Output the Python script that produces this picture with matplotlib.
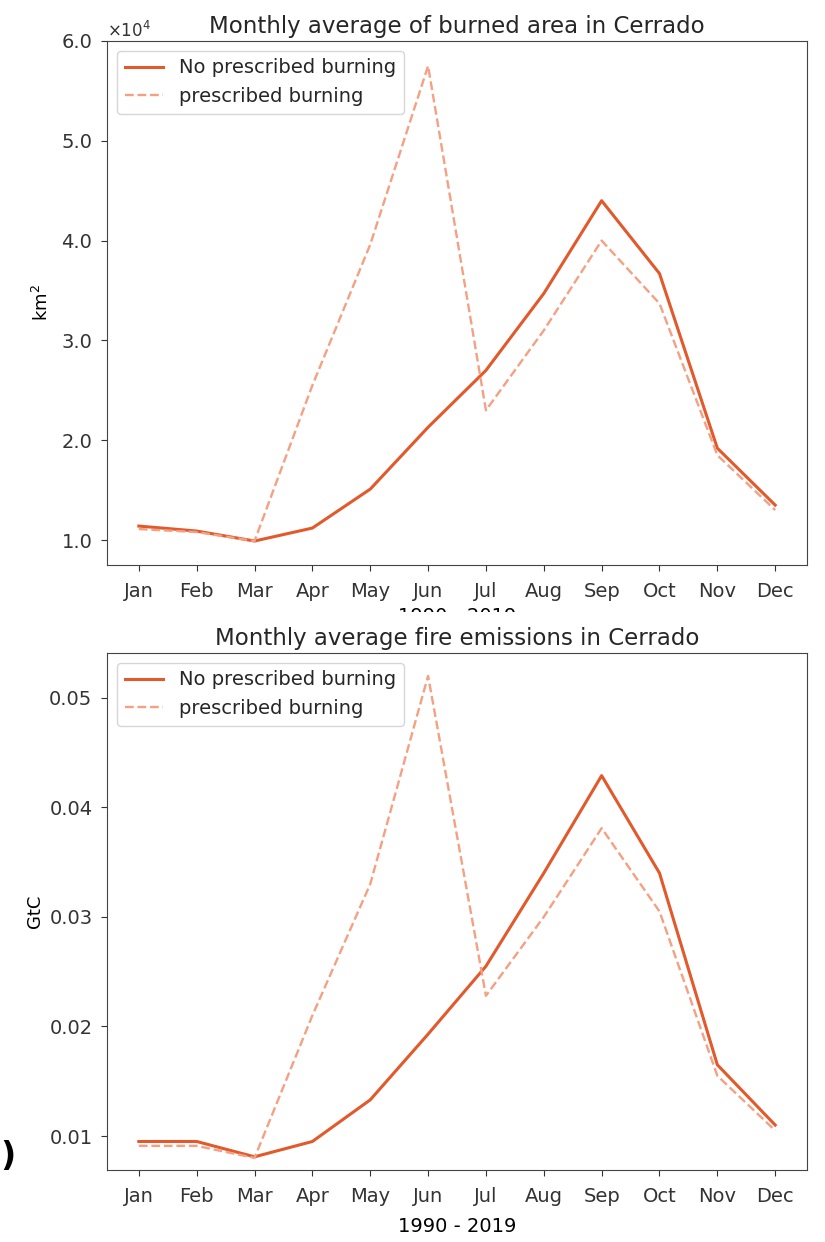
import matplotlib
matplotlib.use("Agg")
import matplotlib.pyplot as plt
from matplotlib.ticker import ScalarFormatter
from matplotlib.patches import Rectangle

months = ["Jan", "Feb", "Mar", "Apr", "May", "Jun", "Jul", "Aug", "Sep", "Oct", "Nov", "Dec"]

# burned area, km2
area_no_pb = [11400, 10900, 9900, 11200, 15100, 21300, 27000, 34700, 44000, 36700, 19200, 13500]
area_pb = [11100, 10800, 9900, 25500, 39600, 57500, 23000, 31000, 40000, 33700, 18500, 13000]

# emissions, GtC
emis_no_pb = [0.0095, 0.0095, 0.0081, 0.0095, 0.0133, 0.0193, 0.0255, 0.0340, 0.0429, 0.0340, 0.0165, 0.0110]
emis_pb = [0.0091, 0.0091, 0.0080, 0.0210, 0.0330, 0.0520, 0.0228, 0.0300, 0.0381, 0.0305, 0.0155, 0.0105]

c_solid = "#e2592b"
c_dash = "#f5a082"

class OneDecimal(ScalarFormatter):
    def _set_format(self):
        self.format = "%1.1f"

plt.rcParams["font.size"] = 14
plt.rcParams["text.color"] = "#262626"
plt.rcParams["xtick.color"] = "#333333"
plt.rcParams["ytick.color"] = "#333333"
plt.rcParams["axes.edgecolor"] = "#444444"
plt.rcParams["xtick.major.pad"] = 8
plt.rcParams["ytick.major.pad"] = 6
plt.rcParams["xtick.major.size"] = 4.5
plt.rcParams["ytick.major.size"] = 4.5

fig = plt.figure(figsize=(8.25, 12.42), dpi=100)
ax1 = fig.add_axes([0.1297, 0.5451, 0.8485, 0.4219])
ax2 = fig.add_axes([0.1297, 0.0580, 0.8485, 0.4163])
ax2.set_zorder(2)

x = range(len(months))

ax1.plot(x, area_no_pb, color=c_solid, lw=2.2, label="No prescribed burning")
ax1.plot(x, area_pb, color=c_dash, lw=1.7, ls="--", label="prescribed burning")
ax1.set_ylim(7500, 60000)
ax1.set_yticks([10000, 20000, 30000, 40000, 50000, 60000])
fmt = OneDecimal(useMathText=True)
fmt.set_powerlimits((0, 0))
ax1.yaxis.set_major_formatter(fmt)
ax1.yaxis.get_offset_text().set_fontsize(12)
ax1.set_xticks(list(x))
ax1.set_xticklabels(months)
ax1.set_ylabel("km$^2$", fontsize=13, labelpad=7)
ax1.set_xlabel("1990 - 2019")
ax1.set_title("Monthly average of burned area in Cerrado", fontsize=16.5)
ax1.legend(loc="upper left")

ax2.plot(x, emis_no_pb, color=c_solid, lw=2.2, label="No prescribed burning")
ax2.plot(x, emis_pb, color=c_dash, lw=1.7, ls="--", label="prescribed burning")
ax2.set_ylim(0.0069, 0.0541)
ax2.set_yticks([0.01, 0.02, 0.03, 0.04, 0.05])
ax2.set_xticks(list(x))
ax2.set_xticklabels(months)
ax2.set_ylabel("GtC", fontsize=13, labelpad=4)
ax2.set_xlabel("1990 - 2019", labelpad=8)
ax2.set_title("Monthly average fire emissions in Cerrado", fontsize=16.5)
ax2.legend(loc="upper left")

# the two panels were stitched: the lower one hides part of the upper x label
fig.add_artist(Rectangle((0, 0.47), 1, 0.0372, transform=fig.transFigure,
                         facecolor="white", edgecolor="none", zorder=1))

fig.text(0.0, 0.069, ")", fontsize=24, fontweight="bold", va="center", color="black")

fig.savefig("out.png", dpi=100)
